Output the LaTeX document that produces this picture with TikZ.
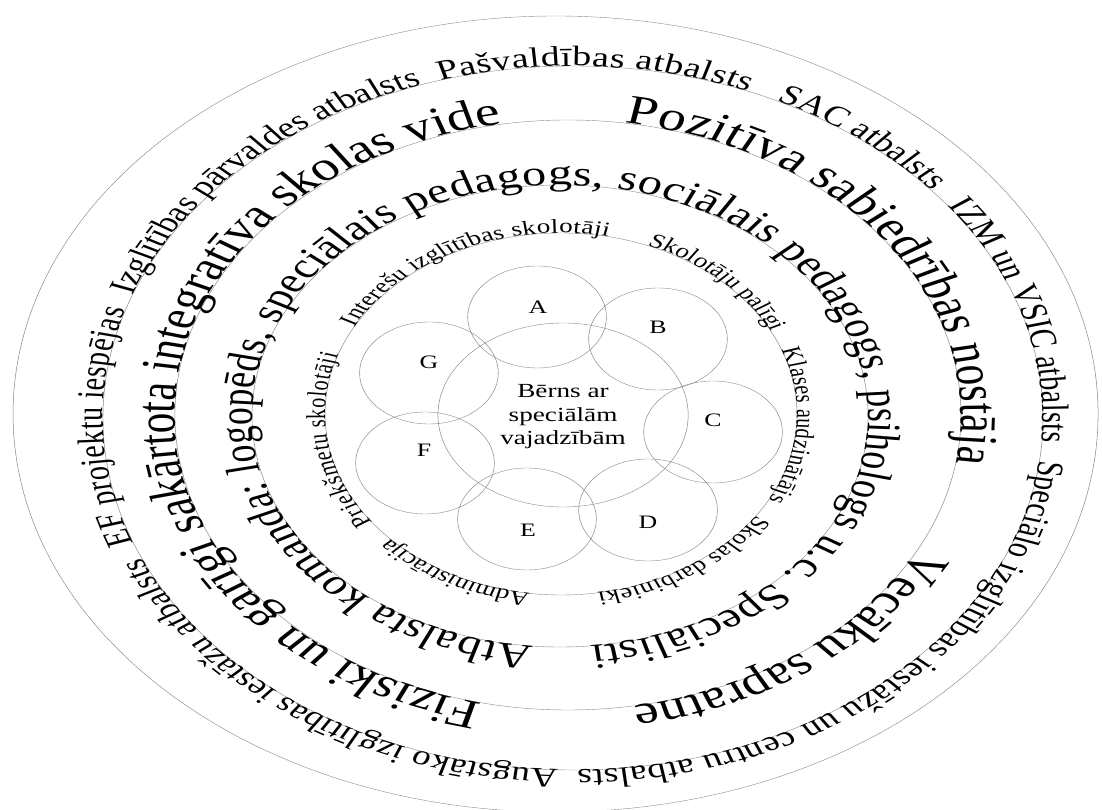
\documentclass[tikz,border=0pt]{standalone}
\usepackage{fontspec}
\setmainfont{Liberation Serif}
\usetikzlibrary{decorations.text}
\newcommand{\bandA}{\fontsize{28}{30}\selectfont}
\newcommand{\bandAs}{\fontsize{27.5}{30}\selectfont}
\newcommand{\bandB}{\fontsize{41}{45}\selectfont}
\newcommand{\bandC}{\fontsize{35.5}{38}\selectfont}
\newcommand{\bandD}{\fontsize{20}{22}\selectfont}
% #1 cx, #2 cy, #3 rx, #4 ry, #5 start angle, #6 end angle, #7 text
\newcommand{\ArcTxt}[7]{%
  \path[decorate,decoration={text along path,text align=fit to path,text={#7}}]
    (#1,#2) ++(#5:#3 and #4) arc[start angle=#5,end angle=#6,x radius=#3,y radius=#4];}
\begin{document}
\begin{tikzpicture}[x=1pt,y=1pt,
  ring/.style={draw=black!45,line width=0.4pt},
  bub/.style={draw=black!45,line width=0.4pt,circle,minimum size=102pt,inner sep=0pt},
  core/.style={draw=black!45,line width=0.4pt,circle,minimum size=184pt,inner sep=0pt},
  lbl/.style={font=\fontsize{19}{22}\selectfont,inner sep=0pt},
  ctext/.style={font=\fontsize{20}{23.5}\selectfont,align=center,inner sep=0pt}]
\useasboundingbox (0,0) rectangle (1102,810);
\begin{scope}[transform canvas={xscale=1.36}]
  % rings
  \draw[ring] (408.5,396) ellipse[x radius=398.9,y radius=398];
  \draw[ring] (421.3,392) ellipse[x radius=345.6,y radius=352];
  \draw[ring] (417.6,395) ellipse[x radius=289,y radius=295];
  \draw[ring] (411.8,394) ellipse[x radius=226.5,y radius=231];
  \draw[ring] (412.5,396) ellipse[x radius=173.5,y radius=181];
  % band 1 (on ring 2)
  \ArcTxt{421.3}{392}{345.6}{352}{200.8}{162.0}{|\bandA|EF projektu iespējas}
  \ArcTxt{421.3}{392}{345.6}{352}{159.6}{109.4}{|\bandA|Izglītības pārvaldes atbalsts}
  \ArcTxt{421.3}{392}{345.6}{352}{106.4}{68.1}{|\bandA|Pašvaldības atbalsts}
  \ArcTxt{421.3}{392}{345.6}{352}{64.3}{40.2}{|\bandA|SAC atbalsts}
  \ArcTxt{421.3}{392}{345.6}{352}{37.1}{-3.9}{|\bandA|IZM un VSIC atbalsts}
  \ArcTxt{421.3}{392}{345.6}{352}{-6.9}{-89.4}{|\bandA|Speciālo izglītības iestāžu un centru atbalsts}
  \ArcTxt{421.3}{392}{345.6}{352}{-91.8}{-156.6}{|\bandAs|Augstāko izglītības iestāžu atbalsts}
  % band 2 (on ring 3)
  \ArcTxt{417.6}{395}{289}{295}{257.5}{100}{|\bandB|Fiziski un garīgi sakārtota integratīva skolas vide}
  \ArcTxt{417.6}{395}{289}{295}{81.7}{-9.4}{|\bandB|Pozitīva sabiedrības nostāja}
  \ArcTxt{417.6}{395}{289}{295}{-27}{-80.5}{|\bandB|Vecāku sapratne}
  % band 3 (on ring 4)
  \ArcTxt{411.8}{394}{226.5}{231}{265}{-84.4}{|\bandC|Atbalsta komanda: logopēds, speciālais pedagogs, sociālais pedagogs, psihologs u.c. Speciālisti}
  % band 4 (on ring 5)
  \ArcTxt{412.5}{396}{173.5}{181}{262.5}{223.5}{|\bandD|Administrācija}
  \ArcTxt{412.5}{396}{173.5}{181}{217}{160.7}{|\bandD|Priekšmetu skolotāji}
  \ArcTxt{412.5}{396}{173.5}{181}{151.3}{78.5}{|\bandD|Interešu izglītības skolotāji}
  \ArcTxt{412.5}{396}{173.5}{181}{68.6}{27}{|\bandD|Skolotāju palīgi}
  \ArcTxt{412.5}{396}{173.5}{181}{21}{-28.4}{|\bandD|Klases audzinātājs}
  \ArcTxt{412.5}{396}{173.5}{181}{-34}{-81.2}{|\bandD|Skolas darbinieki}
  % inner circles
  \node[core] (core) at (414,395) {};
  \node[bub] (cA) at (394.9,493) {};
  \node[bub] (cB) at (483.8,471) {};
  \node[bub] (cC) at (524.3,378) {};
  \node[bub] (cD) at (476.5,300) {};
  \node[bub] (cE) at (387.5,291) {};
  \node[bub] (cF) at (312.5,347) {};
  \node[bub] (cG) at (315.4,437) {};
  \node[lbl] (lA) at (395.6,503) {A};
  \node[lbl] (lB) at (483.8,483) {B};
  \node[lbl] (lC) at (524.3,390) {C};
  \node[lbl] (lD) at (476.5,288) {D};
  \node[lbl] (lE) at (388.2,280) {E};
  \node[lbl] (lF) at (311.8,360) {F};
  \node[lbl] (lG) at (315.4,448) {G};
  \node[ctext] (child) at (414,393) {Bērns ar\\speciālām\\vajadzībām};
\end{scope}
\end{tikzpicture}
\end{document}
